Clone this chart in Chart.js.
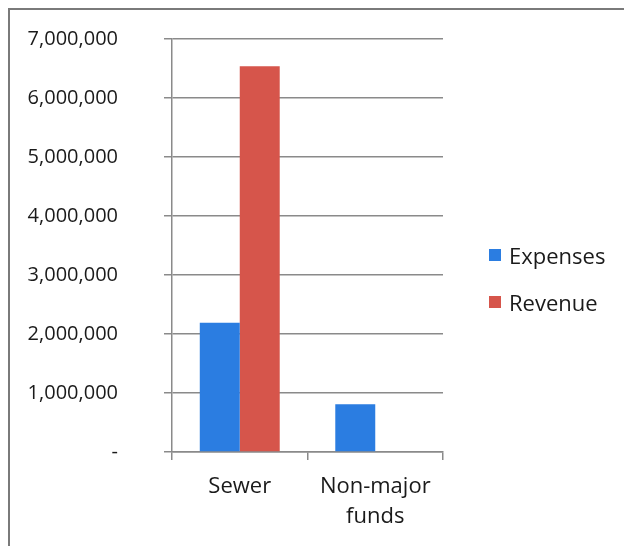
<!DOCTYPE html>
<html>
<head>
<meta charset="utf-8">
<script src="https://cdn.jsdelivr.net/npm/chart.js@4"></script>
<style>
  body { margin: 0; background: #fff; }
  #wrap { position: relative; width: 624px; height: 546px; overflow: hidden; }
  #frame { position: absolute; left: 8px; top: 8px; width: 700px; height: 700px; border: 2px solid #7a7a7a; box-sizing: border-box; }
  #legend { position: absolute; left: 489px; top: 231px; font-family: "Open Sans", sans-serif; font-size: 22px; color: #1a1a1a; }
  #legend div { height: 47px; display: flex; align-items: center; }
  #legend span.box { display: inline-block; width: 12px; height: 12px; margin-right: 8px; }
</style>
</head>
<body>
<div id="wrap">
  <div id="frame"></div>
  <canvas id="chart" width="624" height="546"></canvas>
  <div id="legend"></div>
</div>
<script>
// data
const categories = ['Sewer', ['Non-major', 'funds']]
const seriesNames = ['Expenses', 'Revenue']
const expenses = [2190000, 810000]
const revenue = [6540000, 0]
const colors = ['#2b7de1', '#d6554b']
const yTicks = [0, 1000000, 2000000, 3000000, 4000000, 5000000, 6000000, 7000000]

const seriesValues = [expenses, revenue]
const datasets = seriesNames.map((name, i) => ({
    label: name,
    data: seriesValues[i],
    backgroundColor: colors[i],
    borderWidth: 0,
    barPercentage: 1.0,
    categoryPercentage: 0.59,
}))

new Chart(document.getElementById('chart'), {
    type: 'bar',
    data: { labels: categories, datasets: datasets },
    options: {
        responsive: false,
        animation: false,
        layout: { padding: { left: 0, right: 181, top: 39, bottom: 0 } },
        plugins: { legend: { display: false }, tooltip: { enabled: false } },
        scales: {
            x: {
                grid: { drawOnChartArea: false, drawTicks: true, tickLength: 8, color: '#8a8a8a', lineWidth: 1.5 },
                border: { color: '#8a8a8a', width: 1.5 },
                ticks: {
                    color: '#1a1a1a',
                    font: { family: '"Open Sans", sans-serif', size: 22, lineHeight: 1.4 },
                    padding: 11,
                    maxRotation: 0,
                },
                afterFit(scale) { scale.height = 94 },
            },
            y: {
                min: 0,
                max: 7000000,
                afterBuildTicks(scale) { scale.ticks = yTicks.map(v => ({ value: v })) },
                grid: { color: '#8a8a8a', lineWidth: 1.5, tickLength: 8 },
                border: { color: '#8a8a8a', width: 1.5 },
                ticks: {
                    color: '#1a1a1a',
                    font: { family: '"Open Sans", sans-serif', size: 20 },
                    padding: 46,
                    callback: v => v === 0 ? '-' : v.toLocaleString('en-US'),
                },
                // the big label gap would otherwise push the plot down
                afterFit(scale) { scale.width = 172; scale.paddingTop = 0; scale.paddingBottom = 0 },
            },
        },
    },
})

// legend as html text
const legend = document.getElementById('legend')
seriesNames.forEach((name, i) => {
    const row = document.createElement('div')
    row.innerHTML = '<span class="box" style="background:' + colors[i] + '"></span>' + name
    legend.appendChild(row)
})
</script>
</body>
</html>
